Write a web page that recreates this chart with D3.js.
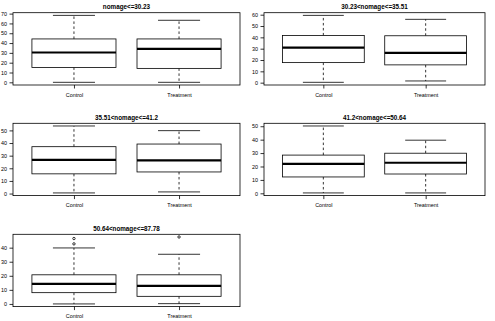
<!DOCTYPE html>
<html>
<head>
<meta charset="utf-8">
<script src="https://cdn.jsdelivr.net/npm/d3@7"></script>
<style>
  html, body { margin: 0; padding: 0; background: #fff; }
  svg { display: block; font-family: "Liberation Sans", Arial, Helvetica, sans-serif; }
</style>
</head>
<body>
<svg id="chart" width="495" height="321"></svg>
<script>
// ---- data ----
const titles = ["nomage<=30.23", "30.23<nomage<=35.51", "35.51<nomage<=41.2", "41.2<nomage<=50.64", "50.64<nomage<=87.78"];
const groups = ["Control", "Treatment"];
const lowerWhisker = [[0, 0], [0.3, 1.5], [0.5, 1.3], [0.3, 0.3], [0, 0.2]];
const q1 = [[15.2, 14.2], [17.7, 15.7], [15.6, 17.1], [12.2, 14.4], [8.0, 5.4]];
const medians = [[30.4, 34.1], [31.0, 26.3], [26.6, 26.3], [22.0, 22.8], [14.3, 12.9]];
const q3 = [[44.2, 44.2], [41.7, 41.4], [37.1, 39.2], [28.5, 29.9], [20.7, 20.7]];
const upperWhisker = [[68.2, 63.2], [59.4, 55.9], [53.5, 49.8], [50.2, 39.6], [39.8, 35.3]];
const outliers = [[[], []], [[], []], [[], []], [[], []], [[46.5, 42.7], [47.6]]];
const yTicks = [
  [0, 10, 20, 30, 40, 50, 60, 70],
  [0, 10, 20, 30, 40, 50, 60],
  [0, 10, 20, 30, 40, 50],
  [0, 10, 20, 30, 40, 50],
  [0, 10, 20, 30, 40]
];

// ---- layout ----
const colLeft = [13, 264], colRight = [240, 485];
const rowTop = [12.7, 123.3, 234.3], plotH = 72.3;

const svg = d3.select("#chart");

titles.forEach((title, p) => {
  const col = p % 2, row = Math.floor(p / 2);
  const x0 = colLeft[col], x1 = colRight[col];
  const y0 = rowTop[row], y1 = y0 + plotH;

  // R-style 4% padded domains
  const allVals = lowerWhisker[p].concat(upperWhisker[p], outliers[p][0], outliers[p][1]);
  const [mn, mx] = d3.extent(allVals);
  const pad = (mx - mn) * 0.04;
  const y = d3.scaleLinear().domain([mn - pad, mx + pad]).range([y1, y0]);
  const x = d3.scaleLinear().domain([0.42, 2.58]).range([x0, x1]);

  const g = svg.append("g");

  // title
  g.append("text")
    .attr("x", (x0 + x1) / 2).attr("y", y0 - 3.8)
    .attr("text-anchor", "middle")
    .attr("font-size", "6.3px").attr("font-weight", "bold")
    .text(title);

  // y axis
  const yAxis = d3.axisLeft(y).tickValues(yTicks[p]).tickSize(3.5).tickPadding(2.5).tickSizeOuter(0);
  const ya = g.append("g").attr("transform", `translate(${x0},0)`).call(yAxis);
  ya.select(".domain").remove();
  ya.selectAll("text").attr("font-size", "5.4px").attr("font-family", "Liberation Sans, Arial, sans-serif").attr("fill", "#000");
  ya.selectAll("line").attr("stroke", "#000").attr("stroke-width", 0.8);

  // x axis
  const xAxis = d3.axisBottom(x).tickValues([1, 2]).tickFormat((d, i) => groups[i]).tickSize(3.5).tickPadding(4.5).tickSizeOuter(0);
  const xa = g.append("g").attr("transform", `translate(0,${y1})`).call(xAxis);
  xa.select(".domain").remove();
  xa.selectAll("text").attr("font-size", "5.4px").attr("font-family", "Liberation Sans, Arial, sans-serif").attr("fill", "#000");
  xa.selectAll("line").attr("stroke", "#000").attr("stroke-width", 0.8);

  // boxes
  groups.forEach((grp, i) => {
    const c = i + 1;
    const bx0 = x(c - 0.4), bx1 = x(c + 0.4);
    const cx0 = x(c - 0.2), cx1 = x(c + 0.2);
    const xc = x(c);
    // whiskers (dashed)
    g.append("line").attr("x1", xc).attr("x2", xc).attr("y1", y(q3[p][i])).attr("y2", y(upperWhisker[p][i]))
      .attr("stroke", "#000").attr("stroke-width", 0.8).attr("stroke-dasharray", "2.5,2.5");
    g.append("line").attr("x1", xc).attr("x2", xc).attr("y1", y(q1[p][i])).attr("y2", y(lowerWhisker[p][i]))
      .attr("stroke", "#000").attr("stroke-width", 0.8).attr("stroke-dasharray", "2.5,2.5");
    // caps
    [upperWhisker[p][i], lowerWhisker[p][i]].forEach(v => {
      g.append("line").attr("x1", cx0).attr("x2", cx1).attr("y1", y(v)).attr("y2", y(v))
        .attr("stroke", "#000").attr("stroke-width", 0.8);
    });
    // box
    g.append("rect").attr("x", bx0).attr("y", y(q3[p][i]))
      .attr("width", bx1 - bx0).attr("height", y(q1[p][i]) - y(q3[p][i]))
      .attr("fill", "#fff").attr("stroke", "#000").attr("stroke-width", 0.8);
    // median
    g.append("line").attr("x1", bx0).attr("x2", bx1).attr("y1", y(medians[p][i])).attr("y2", y(medians[p][i]))
      .attr("stroke", "#000").attr("stroke-width", 2.2);
    // outliers
    outliers[p][i].forEach(v => {
      g.append("circle").attr("cx", xc).attr("cy", y(v)).attr("r", 1.2)
        .attr("fill", "none").attr("stroke", "#000").attr("stroke-width", 0.8);
    });
  });

  // frame
  g.append("rect").attr("x", x0).attr("y", y0).attr("width", x1 - x0).attr("height", plotH)
    .attr("fill", "none").attr("stroke", "#000").attr("stroke-width", 0.8);
});
</script>
</body>
</html>
